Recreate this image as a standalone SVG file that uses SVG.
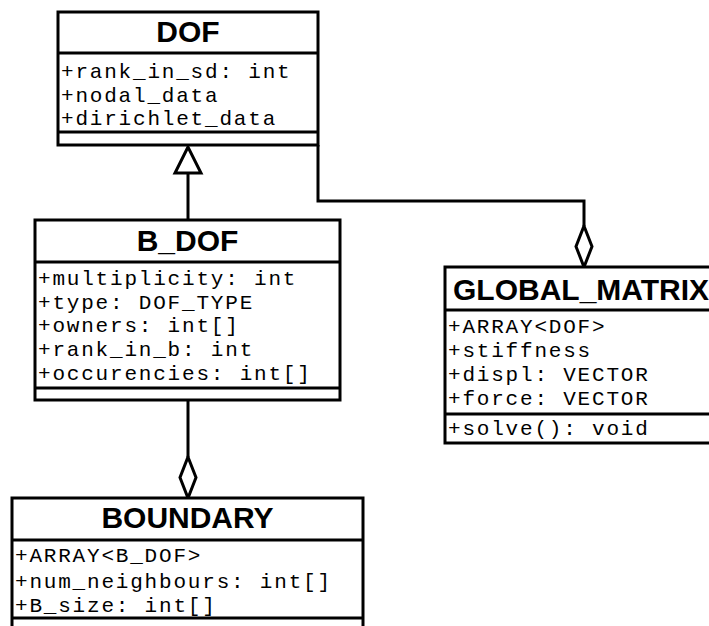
<svg xmlns="http://www.w3.org/2000/svg" width="709" height="626" viewBox="0 0 709 626">
<style>
.box{fill:#fff;stroke:#000;stroke-width:3}
.div{stroke:#000;stroke-width:3}
.title{font-family:"Liberation Sans",Arial,sans-serif;font-weight:bold;font-size:30px;fill:#000}
.attr{font-family:"Liberation Mono","Courier New",monospace;font-size:21px;letter-spacing:1.8px;fill:#000}
.con{fill:none;stroke:#000;stroke-width:3}
.head{fill:#fff;stroke:#000;stroke-width:3}
</style>
<rect width="709" height="626" fill="#fff"/>
<g id="connectors">
<line class="con" x1="188" y1="172" x2="188" y2="220"/>
<polygon class="head" points="188,147 175,173 201,173"/>
<polyline class="con" points="318,145 318,201 584,201 584,226"/>
<polygon class="head" points="584,226 592,246.5 584,267 576,246.5"/>
<line class="con" x1="188" y1="400" x2="188" y2="457"/>
<polygon class="head" points="188,457 196,477.5 188,498 180,477.5"/>
</g>
<g id="DOF">
<rect class="box" x="58" y="12" width="260" height="133"/>
<line class="div" x1="58" y1="53" x2="318" y2="53"/>
<line class="div" x1="58" y1="132" x2="318" y2="132"/>
<text class="title" x="188" y="42" text-anchor="middle">DOF</text>
<text class="attr" x="61" y="78">+rank_in_sd: int</text>
<text class="attr" x="61" y="102">+nodal_data</text>
<text class="attr" x="61" y="125">+dirichlet_data</text>
</g>
<g id="B_DOF">
<rect class="box" x="35" y="220" width="305" height="180"/>
<line class="div" x1="35" y1="262" x2="340" y2="262"/>
<line class="div" x1="35" y1="388" x2="340" y2="388"/>
<text class="title" x="187.5" y="251" text-anchor="middle">B_DOF</text>
<text class="attr" x="38" y="285">+multiplicity: int</text>
<text class="attr" x="38" y="308.5">+type: DOF_TYPE</text>
<text class="attr" x="38" y="332">+owners: int[]</text>
<text class="attr" x="38" y="356">+rank_in_b: int</text>
<text class="attr" x="38" y="380">+occurencies: int[]</text>
</g>
<g id="GLOBAL_MATRIX">
<rect class="box" x="445" y="267" width="300" height="176"/>
<line class="div" x1="445" y1="310" x2="745" y2="310"/>
<line class="div" x1="445" y1="414" x2="745" y2="414"/>
<text class="title" x="453" y="300">GLOBAL_MATRIX</text>
<text class="attr" x="448" y="333">+ARRAY&lt;DOF&gt;</text>
<text class="attr" x="448" y="357">+stiffness</text>
<text class="attr" x="448" y="381">+displ: VECTOR</text>
<text class="attr" x="448" y="405">+force: VECTOR</text>
<text class="attr" x="448" y="435">+solve(): void</text>
</g>
<g id="BOUNDARY">
<rect class="box" x="12" y="498" width="351" height="150"/>
<line class="div" x1="12" y1="540" x2="363" y2="540"/>
<line class="div" x1="12" y1="618" x2="363" y2="618"/>
<text class="title" x="187.5" y="528" text-anchor="middle">BOUNDARY</text>
<text class="attr" x="15" y="562">+ARRAY&lt;B_DOF&gt;</text>
<text class="attr" x="15" y="588">+num_neighbours: int[]</text>
<text class="attr" x="15" y="612">+B_size: int[]</text>
</g>
</svg>
